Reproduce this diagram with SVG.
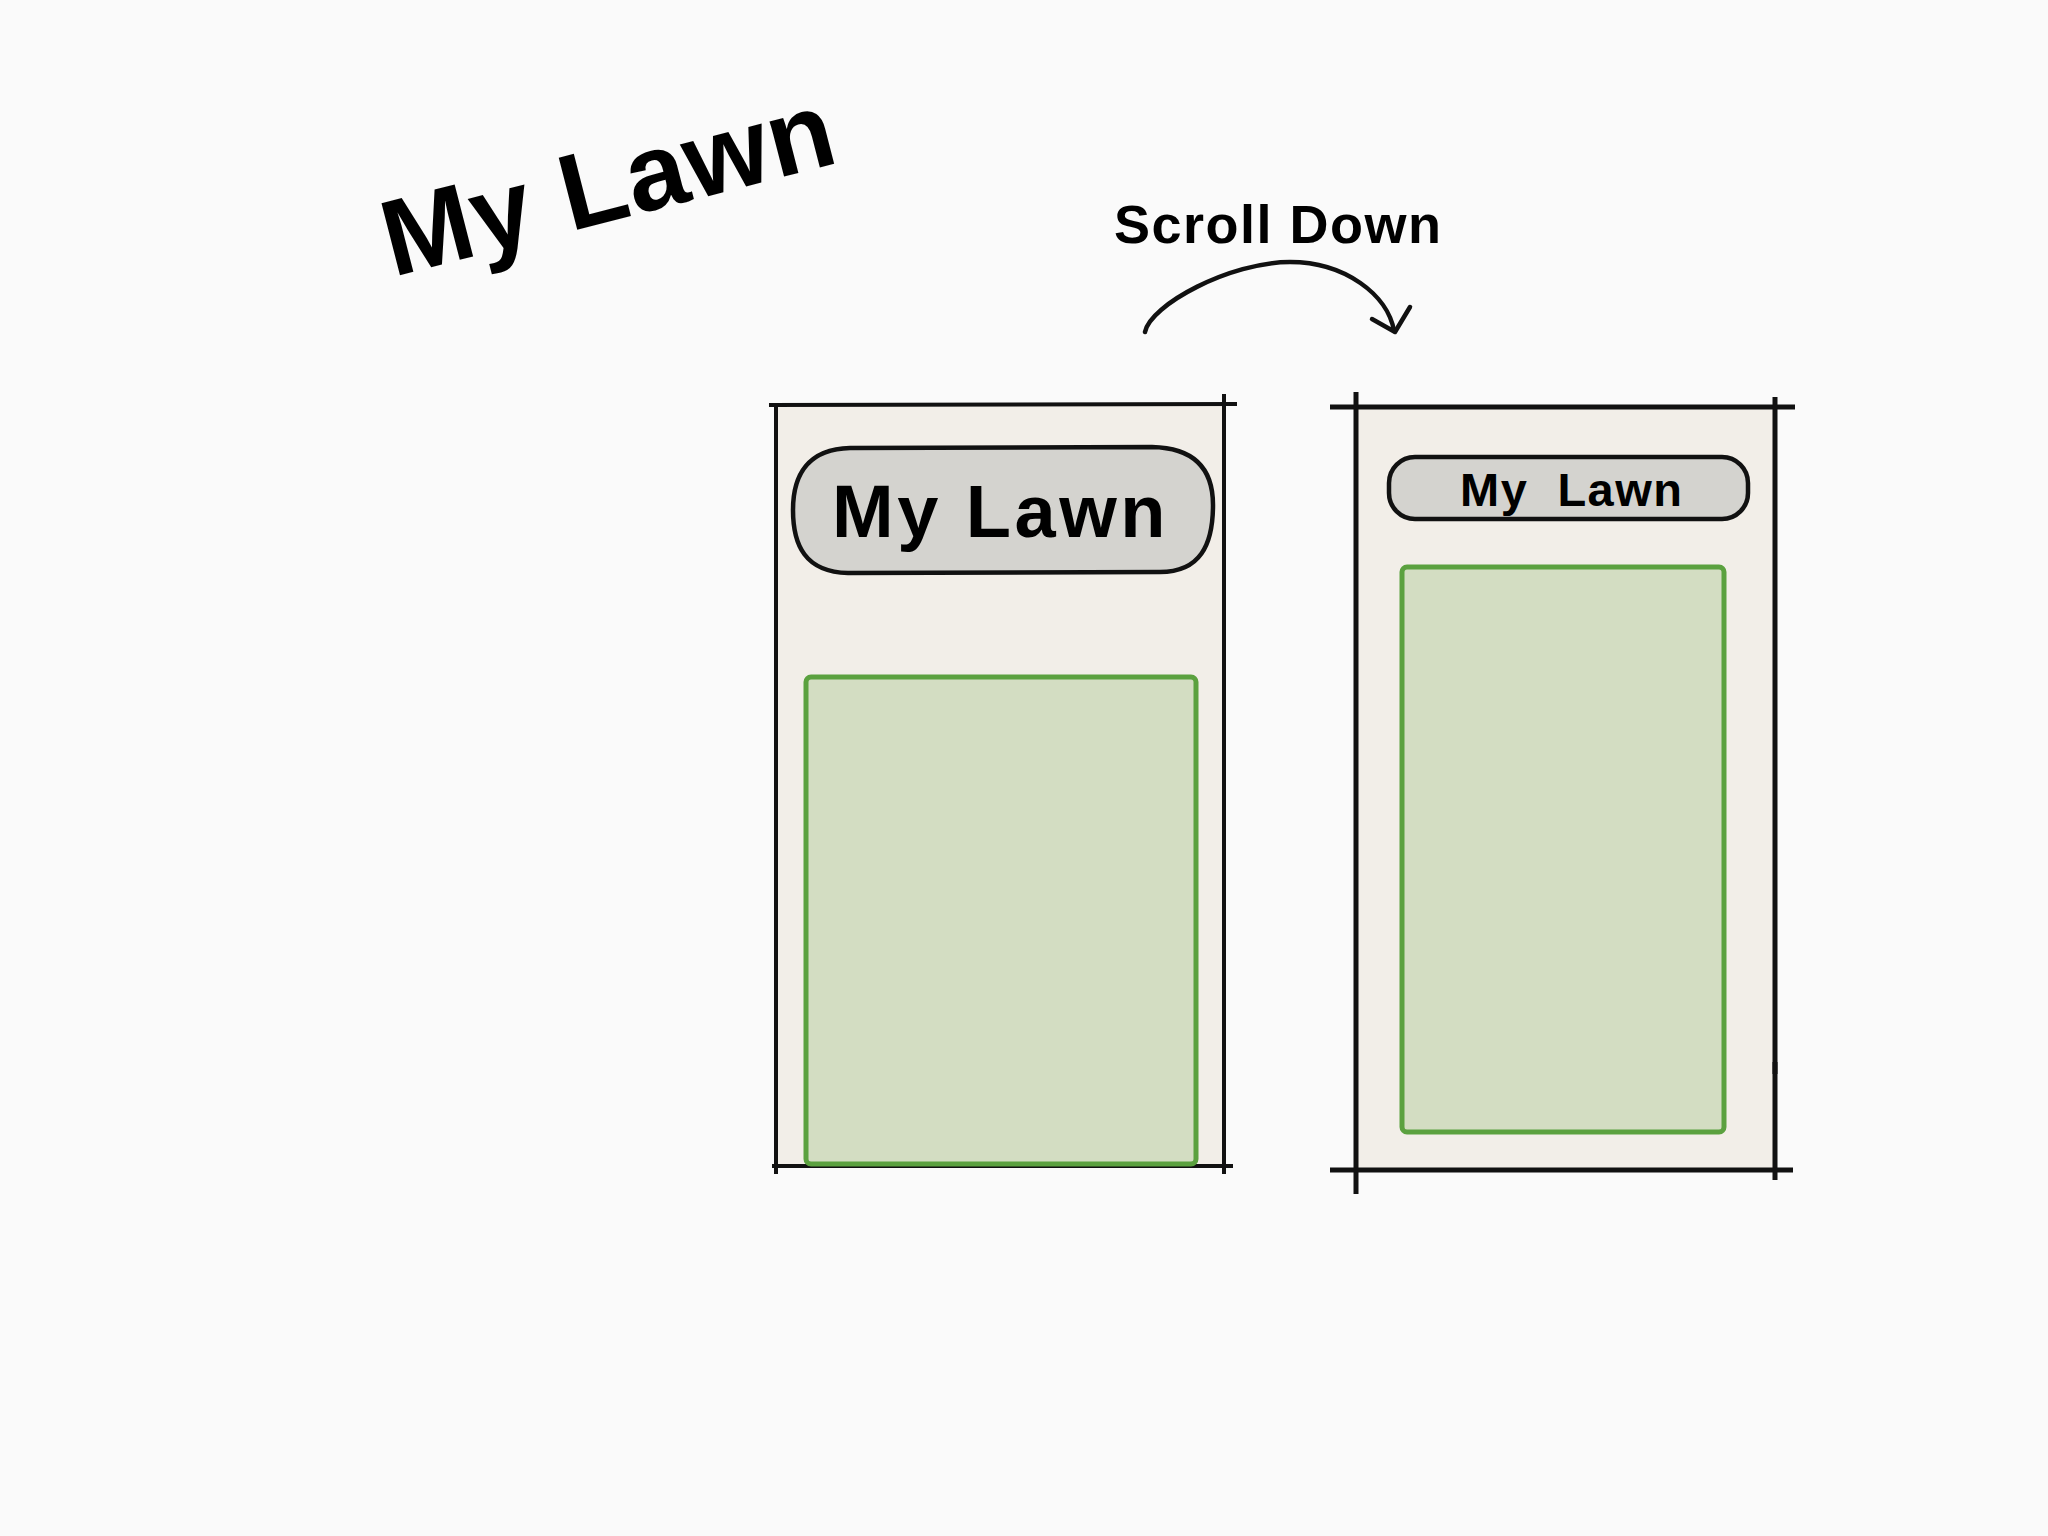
<svg xmlns="http://www.w3.org/2000/svg" width="2048" height="1536" viewBox="0 0 2048 1536">
  <style>
    .frame { stroke: #111; stroke-linecap: butt; fill: none; }
    .screen { fill: #f2eee8; stroke: none; }
    .pill { fill: #d4d3cf; stroke: #111; stroke-width: 4.5; }
    .lawn { fill: #d3ddc2; stroke: #5ba13f; stroke-width: 5; }
    .bold { font-family: "Liberation Sans", Arial, sans-serif; font-weight: bold; fill: #000; }
    .arrow { stroke: #111; stroke-width: 4.5; fill: none; stroke-linecap: round; stroke-linejoin: round; }
  </style>
  <rect x="0" y="0" width="2048" height="1536" fill="#fafafa"/>

  <g id="title">
    <text class="bold" x="393" y="277" font-size="108" letter-spacing="1" transform="rotate(-14.4 393 277)">My Lawn</text>
  </g>

  <g id="scroll-label">
    <text class="bold" x="1114" y="243" font-size="54" letter-spacing="1.5">Scroll Down</text>
  </g>

  <g id="connectors">
    <path class="arrow" d="M1145 332 C1150 305 1230 262 1290 262 C1345 262 1388 295 1394 331"/>
    <path class="arrow" stroke-width="6" d="M1372 319 L1395 332 L1410 307"/>
  </g>

  <g id="phone-left">
    <rect class="screen" x="776" y="405" width="448" height="761"/>
    <line class="frame" stroke-width="4" x1="769" y1="405" x2="1237" y2="404"/>
    <line class="frame" stroke-width="4" x1="776" y1="403" x2="776" y2="1174"/>
    <line class="frame" stroke-width="4" x1="1224" y1="394" x2="1224" y2="1174"/>
    <line class="frame" stroke-width="4" x1="772" y1="1166" x2="1233" y2="1166"/>
    <g id="pill-left">
      <path class="pill" d="M850 448 L1152 447 C1200 448 1213 475 1213 505 C1213 545 1200 572 1160 572 L848 573 C805 572 793 545 793 510 C793 475 808 449 850 448 Z"/>
      <text class="bold" x="832" y="537" font-size="74" letter-spacing="3.5">My Lawn</text>
    </g>
    <rect id="lawn-left" class="lawn" x="806" y="677" width="390" height="487" rx="5"/>
  </g>

  <g id="phone-right">
    <rect class="screen" x="1356" y="407" width="419" height="763"/>
    <line class="frame" stroke-width="5" x1="1330" y1="407" x2="1795" y2="407"/>
    <line class="frame" stroke-width="5" x1="1356" y1="392" x2="1356" y2="1194"/>
    <line class="frame" stroke-width="5" x1="1775" y1="397" x2="1775" y2="1180"/>
    <line class="frame" stroke-width="5" x1="1330" y1="1170" x2="1793" y2="1170"/>
    <rect x="1772.5" y="1062" width="5" height="12" fill="#111"/>
    <g id="pill-right">
      <rect class="pill" x="1389" y="457" width="359" height="62" rx="26" ry="26" stroke-width="4"/>
      <text class="bold" x="1460" y="506" font-size="47" letter-spacing="1.5" xml:space="preserve">My  Lawn</text>
    </g>
    <rect id="lawn-right" class="lawn" x="1402" y="567" width="322" height="565" rx="5"/>
  </g>
</svg>
